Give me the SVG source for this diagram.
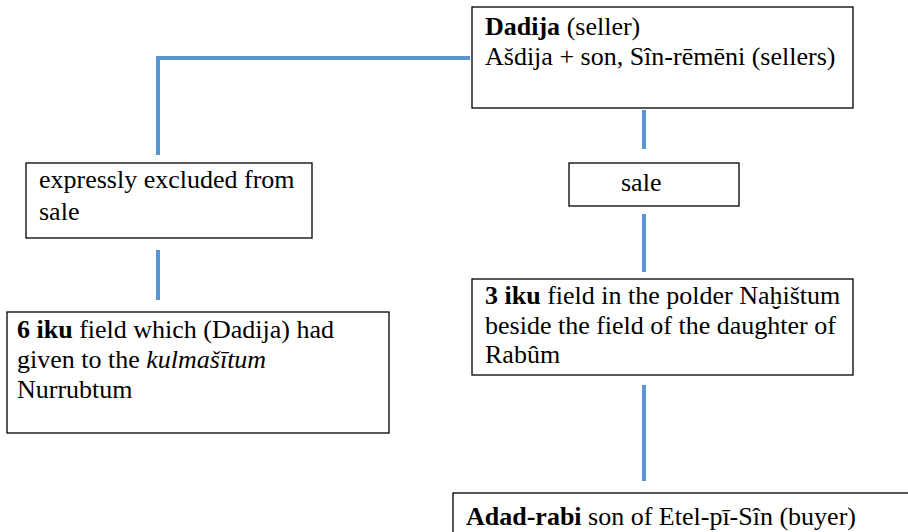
<svg xmlns="http://www.w3.org/2000/svg" width="908" height="532" viewBox="0 0 908 532">
<style>
.box{fill:#fff;stroke:#000;stroke-width:1.3}
.t{font-family:'Liberation Serif','Times New Roman',serif;font-size:26px;fill:#000}
.b{font-weight:bold}
.conn{fill:none;stroke:#5b95cf;stroke-width:4}
</style>
<rect width="908" height="532" fill="#fff"/>
<g id="connectors">
<polyline class="conn" points="470,58 158,58 158,155"/>
<line class="conn" x1="644" y1="110" x2="644" y2="149"/>
<line class="conn" x1="644" y1="214" x2="644" y2="272"/>
<line class="conn" x1="158" y1="250" x2="158" y2="300"/>
<line class="conn" x1="644" y1="385" x2="644" y2="481"/>
</g>
<g id="seller">
<rect class="box" x="472" y="7" width="381" height="101"/>
<text class="t" x="485" y="35"><tspan class="b">Dadija</tspan> (seller)</text>
<text class="t" x="485" y="65">Ašdija + son, Sîn-rēmēni (sellers)</text>
</g>
<g id="excluded">
<rect class="box" x="26" y="163" width="286" height="75"/>
<text class="t" x="39" y="188">expressly excluded from</text>
<text class="t" x="39" y="220">sale</text>
</g>
<g id="sale">
<rect class="box" x="569" y="163" width="170" height="43"/>
<text class="t" x="621" y="191">sale</text>
</g>
<g id="field6">
<rect class="box" x="7" y="312" width="382" height="121"/>
<text class="t" x="17" y="338"><tspan class="b">6 iku</tspan> field which (Dadija) had</text>
<text class="t" x="17" y="368">given to the <tspan font-style="italic">kulmašītum</tspan></text>
<text class="t" x="17" y="398">Nurrubtum</text>
</g>
<g id="field3">
<rect class="box" x="472" y="279" width="381" height="96"/>
<text class="t" x="485" y="304"><tspan class="b">3 iku</tspan> field in the polder Naḫištum</text>
<text class="t" x="485" y="334">beside the field of the daughter of</text>
<text class="t" x="485" y="363">Rabûm</text>
</g>
<g id="buyer">
<rect class="box" x="453" y="493" width="480" height="60"/>
<text class="t" x="466" y="525"><tspan class="b">Adad-rabi</tspan> son of Etel-pī-Sîn (buyer)</text>
</g>
</svg>
